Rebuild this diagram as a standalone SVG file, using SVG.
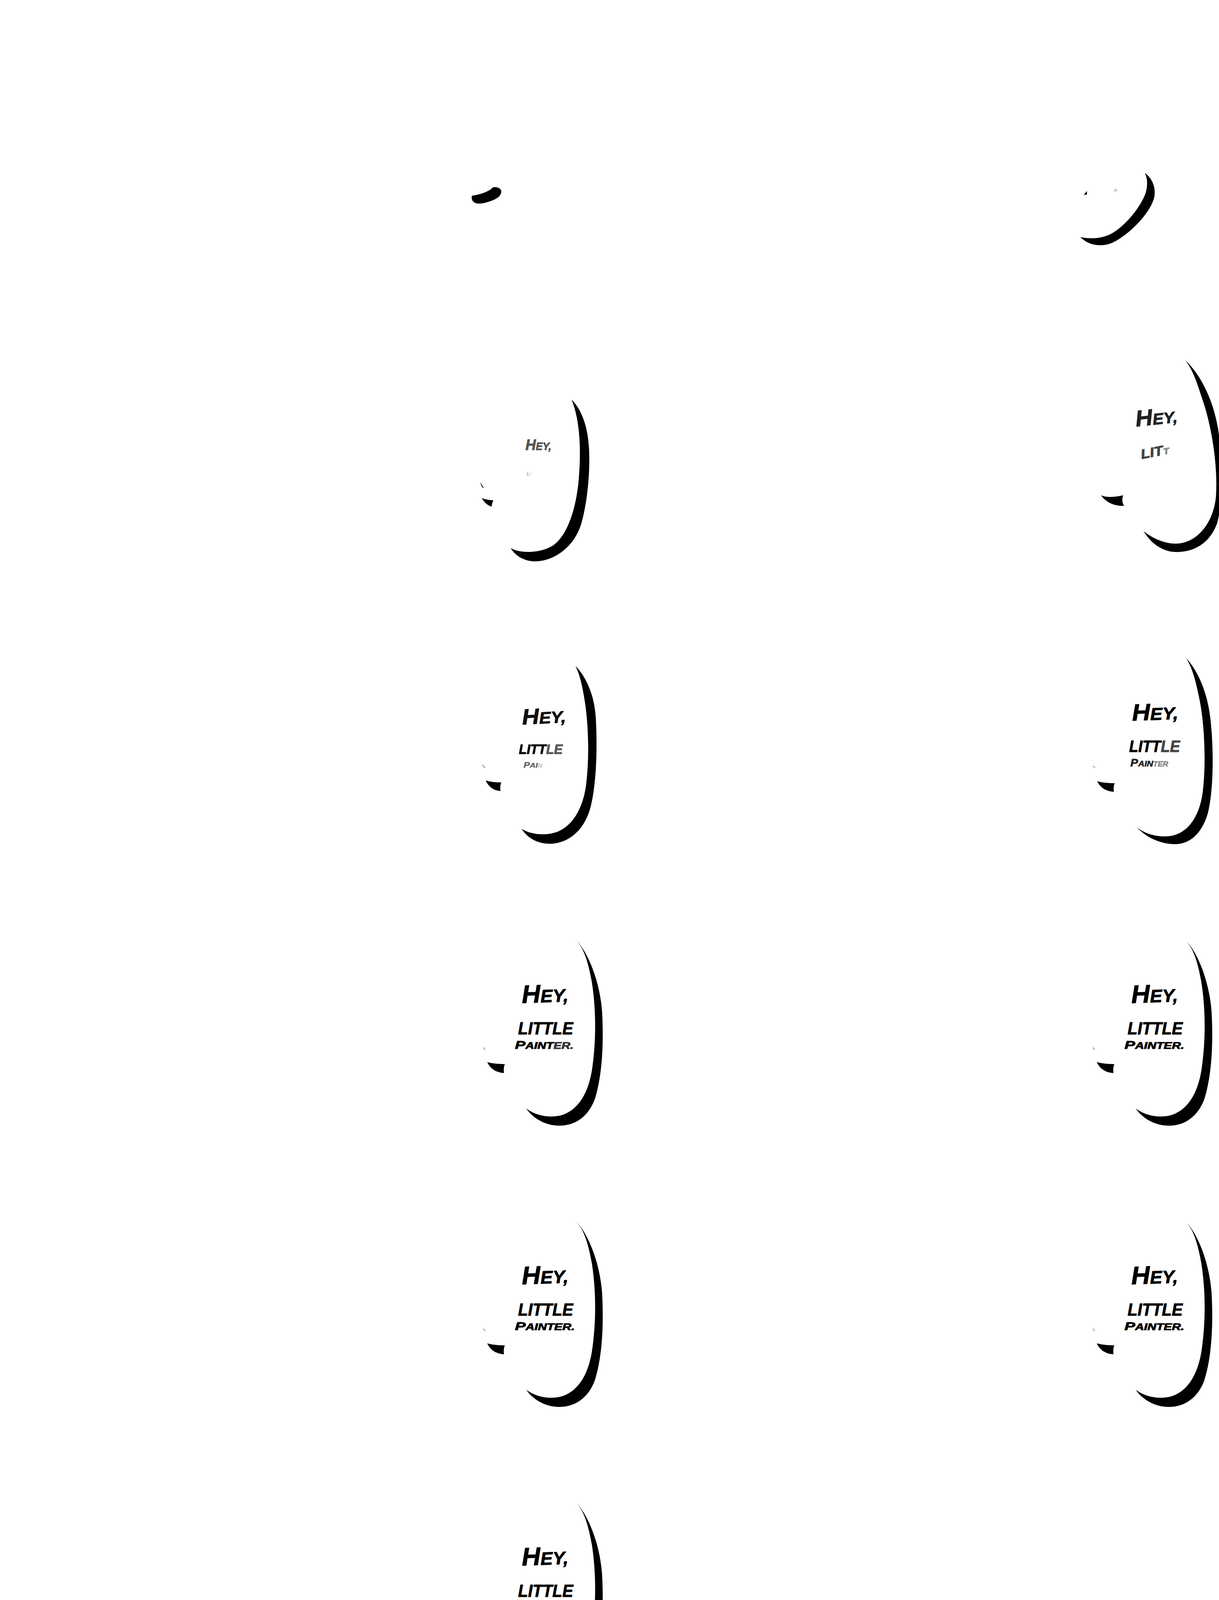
<svg xmlns="http://www.w3.org/2000/svg" width="3120" height="4320" viewBox="0 0 3120 4320">
<style>
.sh{fill:#000}
.t{font-family:"Liberation Sans",Arial,sans-serif;font-weight:bold;font-style:italic;fill:#000;stroke:#000;stroke-width:1.2;stroke-linejoin:round}
.tick{stroke:#666;stroke-width:1.5;fill:none;stroke-linecap:round}
</style>
<defs>
<path id="shadow-final" d="M1475,247 C1510,285 1536,360 1541,430 C1546,520 1540,600 1522,655 C1500,712 1455,725 1420,721 C1390,718 1362,700 1347,678 C1375,698 1410,703 1440,694 C1480,680 1505,640 1515,580 C1527,500 1525,420 1515,355 C1505,300 1495,270 1475,247 Z"/>
<path id="tail-final" d="M1247,559 C1262,563 1278,564 1292,564 C1289,572 1289,580 1290,587 C1272,586 1256,578 1247,559 Z"/>
</defs>
<rect width="3120" height="4320" fill="#fff"/>

<g id="frame-01" transform="translate(0,0)">
<path class="sh" d="M1208,501 C1230,498 1252,490 1261,480 C1270,477 1283,481 1283,490 C1283,503 1270,510 1255,515 C1240,520 1225,524 1215,519 C1208,515 1206,508 1208,501 Z"/>
</g>

<g id="frame-02" transform="translate(1560,0)">
<path class="sh" d="M1370,443 C1392,458 1400,485 1393,510 C1380,550 1330,600 1290,620 C1265,632 1230,632 1205,607 C1235,613 1262,610 1285,598 C1320,578 1355,535 1370,500 C1378,480 1378,458 1370,443 Z"/>
<path class="sh" d="M1214,499 L1222,489 L1222,498 Z"/>
<text class="t" x="1293" y="492" font-size="11" style="fill:#aaa;stroke:none" transform="rotate(-20 1293 492)">H</text>
</g>

<g id="frame-03" transform="translate(0,720)">
<path class="sh" d="M1463,303 C1490,330 1506,375 1508,437 C1510,500 1502,570 1488,620 C1470,680 1420,715 1373,717 C1345,718 1320,705 1307,683 C1330,697 1380,697 1413,678 C1450,655 1472,590 1480,520 C1488,440 1486,360 1463,303 Z"/>
<path class="sh" d="M1230,514 C1232,520 1235,525 1239,529 L1235,528 C1232,524 1230,519 1230,514 Z"/>
<path class="sh" d="M1233,555 C1243,559 1253,560 1263,561 C1260,566 1259,571 1258,577 C1248,574 1239,566 1233,555 Z"/>
<text class="t" x="1345" y="432" textLength="66" lengthAdjust="spacingAndGlyphs" style="fill:#555;stroke:#555"><tspan font-size="38">H</tspan><tspan font-size="27">EY,</tspan></text>
<text class="t" x="1348" y="497" font-size="13" style="fill:#aaa;stroke:none">L<tspan style="fill:#ddd">I</tspan></text>
</g>

<g id="frame-04" transform="translate(1560,720)">
<path class="sh" d="M1473,202 C1510,235 1545,300 1558,380 C1570,460 1572,560 1555,620 C1535,675 1490,695 1447,693 C1415,692 1385,670 1367,640 C1395,662 1430,675 1460,671 C1505,665 1545,620 1552,553 C1558,470 1540,370 1520,310 C1505,265 1495,228 1473,202 Z"/>
<path class="sh" d="M1258,548 C1275,555 1295,552 1315,548 C1311,557 1312,567 1317,575 C1295,576 1272,568 1258,548 Z"/>
<text class="t" x="1348" y="372" textLength="107" lengthAdjust="spacingAndGlyphs" style="fill:#222;stroke:#222" transform="rotate(-6 1348 372)"><tspan font-size="58">H</tspan><tspan font-size="40">EY,</tspan></text>
<text class="t" x="1362" y="455" textLength="73" lengthAdjust="spacingAndGlyphs" style="fill:#444;stroke:#444" transform="rotate(-11 1362 455)"><tspan font-size="34">LIT</tspan><tspan font-size="22" style="fill:#888;stroke:#888">T</tspan></text>
</g>

<g id="frame-05" transform="translate(0,1440)">
<path class="sh" d="M1473,265 C1500,292 1522,340 1525,400 C1529,470 1527,560 1513,620 C1497,690 1450,720 1407,720 C1375,720 1350,705 1335,682 C1360,697 1395,700 1425,690 C1465,675 1492,630 1500,570 C1510,490 1505,400 1495,345 C1490,315 1485,290 1473,265 Z"/>
<path class="sh" d="M1243,558 C1257,562 1270,563 1283,563 C1280,570 1280,578 1281,585 C1264,584 1251,575 1243,558 Z"/>
<line class="tick" x1="1235" y1="518" x2="1241" y2="526"/>
<text class="t" x="1337" y="415" textLength="112" lengthAdjust="spacingAndGlyphs" style="fill:#111;stroke:#111" transform="rotate(-3 1337 415)"><tspan font-size="56">H</tspan><tspan font-size="42">EY,</tspan></text>
<text class="t" x="1328" y="490" font-size="35" textLength="112" lengthAdjust="spacingAndGlyphs">LITT<tspan style="fill:#555;stroke:#555">LE</tspan></text>
<text class="t" x="1340" y="525" textLength="48" lengthAdjust="spacingAndGlyphs" style="fill:#666;stroke:#666;stroke-width:0.6"><tspan font-size="21">P</tspan><tspan font-size="17">AI</tspan><tspan font-size="14" style="fill:#bbb;stroke:none">N</tspan></text>
</g>

<g id="frame-06" transform="translate(1560,1440)">
<path class="sh" d="M1475,244 C1505,275 1530,330 1538,400 C1547,480 1546,580 1532,640 C1515,700 1480,722 1445,721 C1410,720 1375,705 1350,678 C1370,695 1405,705 1437,700 C1480,693 1510,650 1518,590 C1527,520 1524,420 1510,350 C1500,300 1490,265 1475,244 Z"/>
<path class="sh" d="M1248,560 C1263,564 1278,565 1293,565 C1290,572 1290,580 1291,587 C1273,586 1257,578 1248,560 Z"/>
<line class="tick" x1="1238" y1="521" x2="1242" y2="525"/>
<text class="t" x="1338" y="405" textLength="118" lengthAdjust="spacingAndGlyphs" transform="rotate(-2 1338 405)"><tspan font-size="60">H</tspan><tspan font-size="44">EY,</tspan></text>
<text class="t" x="1330" y="485" font-size="42" textLength="130" lengthAdjust="spacingAndGlyphs">LITT<tspan style="fill:#444;stroke:#444">LE</tspan></text>
<text class="t" x="1333" y="522" textLength="97" lengthAdjust="spacingAndGlyphs" style="fill:#222;stroke:#222;stroke-width:0.8"><tspan font-size="28">P</tspan><tspan font-size="21">AIN</tspan><tspan font-size="18" style="fill:#888;stroke:#888">TER</tspan></text>
</g>

<g id="frame-07" transform="translate(0,2160)">
<use href="#shadow-final" class="sh"/>
<use href="#tail-final" class="sh"/>
<line class="tick" x1="1238" y1="522" x2="1241" y2="527"/>
<text class="t" x="1336" y="408" textLength="119" lengthAdjust="spacingAndGlyphs" transform="rotate(-2 1336 408)"><tspan font-size="65">H</tspan><tspan font-size="46">EY,</tspan></text>
<text class="t" x="1326" y="488" font-size="44" textLength="141" lengthAdjust="spacingAndGlyphs">LITTLE</text>
<text class="t" x="1318" y="525" textLength="150" lengthAdjust="spacingAndGlyphs"><tspan font-size="30">P</tspan><tspan font-size="23">AINT</tspan><tspan font-size="23" style="fill:#333;stroke:#333">ER.</tspan></text>
</g>

<g id="frame-08" transform="translate(1560,2160)">
<use href="#shadow-final" class="sh"/>
<use href="#tail-final" class="sh"/>
<line class="tick" x1="1238" y1="522" x2="1241" y2="527"/>
<text class="t" x="1336" y="408" textLength="119" lengthAdjust="spacingAndGlyphs" transform="rotate(-2 1336 408)"><tspan font-size="65">H</tspan><tspan font-size="46">EY,</tspan></text>
<text class="t" x="1326" y="488" font-size="44" textLength="141" lengthAdjust="spacingAndGlyphs">LITTLE</text>
<text class="t" x="1318" y="525" textLength="153" lengthAdjust="spacingAndGlyphs"><tspan font-size="30">P</tspan><tspan font-size="23">AINTER.</tspan></text>
</g>

<g id="frame-09" transform="translate(0,2880)">
<use href="#shadow-final" class="sh"/>
<use href="#tail-final" class="sh"/>
<line class="tick" x1="1238" y1="522" x2="1241" y2="527"/>
<text class="t" x="1336" y="408" textLength="119" lengthAdjust="spacingAndGlyphs" transform="rotate(-2 1336 408)"><tspan font-size="65">H</tspan><tspan font-size="46">EY,</tspan></text>
<text class="t" x="1326" y="488" font-size="44" textLength="141" lengthAdjust="spacingAndGlyphs">LITTLE</text>
<text class="t" x="1318" y="525" textLength="153" lengthAdjust="spacingAndGlyphs"><tspan font-size="30">P</tspan><tspan font-size="23">AINTER.</tspan></text>
</g>

<g id="frame-10" transform="translate(1560,2880)">
<use href="#shadow-final" class="sh"/>
<use href="#tail-final" class="sh"/>
<line class="tick" x1="1238" y1="522" x2="1241" y2="527"/>
<text class="t" x="1336" y="408" textLength="119" lengthAdjust="spacingAndGlyphs" transform="rotate(-2 1336 408)"><tspan font-size="65">H</tspan><tspan font-size="46">EY,</tspan></text>
<text class="t" x="1326" y="488" font-size="44" textLength="141" lengthAdjust="spacingAndGlyphs">LITTLE</text>
<text class="t" x="1318" y="525" textLength="153" lengthAdjust="spacingAndGlyphs"><tspan font-size="30">P</tspan><tspan font-size="23">AINTER.</tspan></text>
</g>

<g id="frame-11" transform="translate(0,3600)">
<use href="#shadow-final" class="sh"/>
<use href="#tail-final" class="sh"/>
<line class="tick" x1="1238" y1="522" x2="1241" y2="527"/>
<text class="t" x="1336" y="408" textLength="119" lengthAdjust="spacingAndGlyphs" transform="rotate(-2 1336 408)"><tspan font-size="65">H</tspan><tspan font-size="46">EY,</tspan></text>
<text class="t" x="1326" y="488" font-size="44" textLength="141" lengthAdjust="spacingAndGlyphs">LITTLE</text>
<text class="t" x="1318" y="525" textLength="153" lengthAdjust="spacingAndGlyphs"><tspan font-size="30">P</tspan><tspan font-size="23">AINTER.</tspan></text>
</g>
</svg>
